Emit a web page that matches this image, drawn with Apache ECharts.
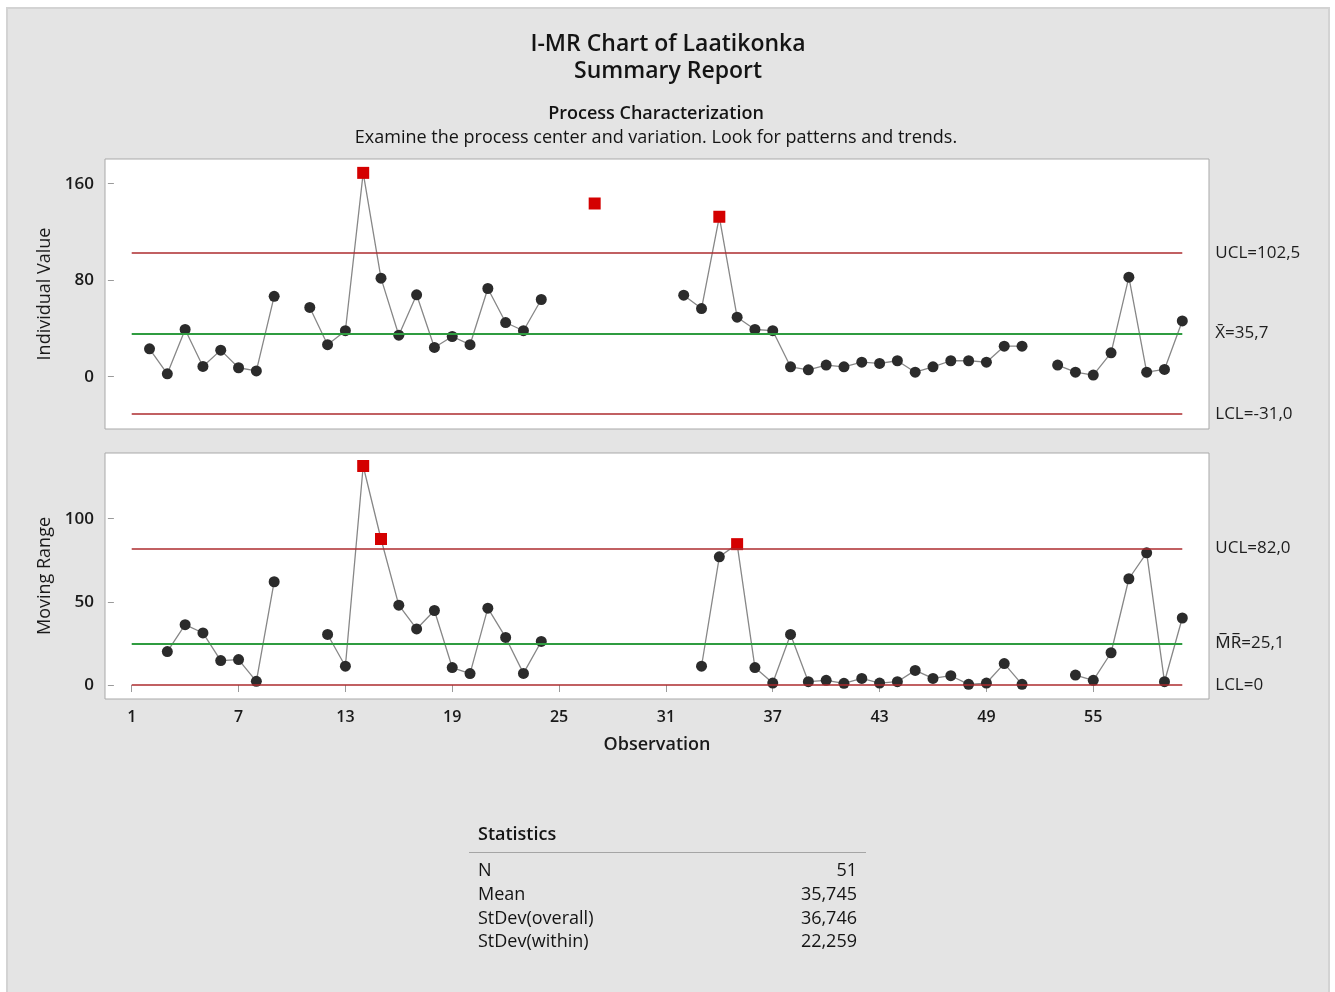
<!DOCTYPE html>
<html>
<head>
<meta charset="utf-8">
<title>I-MR Chart of Laatikonka</title>
<script src="https://cdn.jsdelivr.net/npm/echarts@6/dist/echarts.min.js"></script>
<style>
  html, body { margin: 0; padding: 0; background: #ffffff; }
  #panel {
    position: absolute; left: 6px; top: 7px;
    width: 1320px; height: 990px;
    border: 2px solid #d3d3d3; border-bottom: none;
    background: #e4e4e4;
  }
  #chart { width: 1320px; height: 983px; }
</style>
</head>
<body>
<div id="panel"><div id="chart"></div></div>
<script>
// Observations 1..60; null marks a missing observation
const individualValues = [
  null, 23.1, 2.4, 39.1, 8.5, 22.0, 7.4, 4.8, 66.6, null,
  57.4, 26.5, 38.1, 169.0, 81.7, 34.4, 67.9, 24.2, 33.3, 26.5,
  73.1, 44.9, 38.1, 64.0, null, null, 143.6, null, null, null,
  null, 67.6, 56.5, 132.6, 49.3, 39.1, 38.1, 8.2, 5.7, 9.6,
  8.2, 12.0, 11.0, 13.2, 3.7, 8.2, 13.2, 13.2, 12.0, 25.3,
  25.3, null, 9.6, 3.7, 1.3, 19.8, 82.5, 3.7, 6.0, 46.2
];
const movingRanges = [
  null, null, 20.1, 36.3, 31.3, 14.7, 15.3, 2.2, 62.1, null,
  null, 30.4, 11.3, 131.7, 87.8, 48.0, 33.7, 44.8, 10.5, 6.9,
  46.2, 28.6, 7.0, 26.2, null, null, null, null, null, null,
  null, null, 11.3, 77.1, 84.7, 10.5, 1.2, 30.4, 2.0, 2.8,
  1.0, 4.0, 1.2, 2.0, 8.8, 4.0, 5.6, 0.4, 1.2, 12.9,
  0.4, null, null, 6.0, 2.8, 19.4, 63.9, 79.5, 2.0, 40.3
];
const iLimits = [102.5, 35.7, -31.0];   // UCL, centre, LCL
const iLimitLabels = ['UCL=102,5', 'X\u0304=35,7', 'LCL=-31,0'];
const mrLimits = [82.0, 25.1, 0];       // UCL, centre, LCL
const mrLimitLabels = ['UCL=82,0', 'M\u0305R\u0305=25,1', 'LCL=0'];
const xTicks = [1, 7, 13, 19, 25, 31, 37, 43, 49, 55];
const iTicks = [0, 80, 160];
const mrTicks = [0, 50, 100];
const statNames = ['N', 'Mean', 'StDev(overall)', 'StDev(within)'];
const statValues = ['51', '35,745', '36,746', '22,259'];

const OX = 8, OY = 9;   // canvas origin on the page
const FONT = '"Open Sans", "Noto Sans", sans-serif';
const RED_LINE = '#ad2b2e', GREEN_LINE = '#2f9c40';
const DOT = '#2b2b2b', ALARM = '#d40000', CONNECT = '#878787';

function pairs(arr) {
  return arr.map((v, i) => [i + 1, v == null ? '-' : v]);
}
function points(arr, test) {
  const out = [];
  arr.forEach((v, i) => { if (v != null && test(v)) out.push([i + 1, v]); });
  return out;
}
function limitSeries(gi, limits, labels) {
  const colors = [RED_LINE, GREEN_LINE, RED_LINE];
  return {
    type: 'line', xAxisIndex: gi, yAxisIndex: gi, data: [], z: 1,
    silent: true,
    markLine: {
      silent: true, symbol: ['none', 'none'], animation: false,
      data: limits.map((v, k) => [
        { coord: [1, v], lineStyle: { color: colors[k], width: k === 1 ? 2 : 1.7, type: 'solid' },
          label: { show: true, position: 'end', distance: 33, formatter: labels[k],
                   color: '#1e1e1e', fontSize: 17, fontFamily: FONT } },
        { coord: [60, v] }
      ])
    }
  };
}
function chartSeries(gi, arr, limits) {
  const out = v => v > limits[0] || v < limits[2];
  return [
    limitSeries(gi, limits, gi === 0 ? iLimitLabels : mrLimitLabels),
    { type: 'line', xAxisIndex: gi, yAxisIndex: gi, data: pairs(arr), connectNulls: false,
      symbol: 'none', lineStyle: { color: CONNECT, width: 1.3 }, z: 2, animation: false },
    { type: 'scatter', xAxisIndex: gi, yAxisIndex: gi, data: points(arr, v => !out(v)),
      symbol: 'circle', symbolSize: 11, itemStyle: { color: DOT, opacity: 1 }, z: 3, animation: false },
    { type: 'scatter', xAxisIndex: gi, yAxisIndex: gi, data: points(arr, out),
      symbol: 'rect', symbolSize: 12, itemStyle: { color: ALARM, opacity: 1 }, z: 4, animation: false }
  ];
}
function yAxis(gi, min, max, ticks, name) {
  return {
    type: 'value', gridIndex: gi, min: min, max: max,
    splitLine: { show: false },
    axisLine: { show: false },
    axisTick: { show: true, customValues: ticks, length: 6, lineStyle: { color: '#9a9a9a' } },
    axisLabel: { customValues: ticks, margin: 11, color: '#1a1a1a', fontSize: 17,
                 fontWeight: 600, fontFamily: FONT },
    name: name, nameLocation: 'middle', nameGap: 48, nameRotate: 90,
    nameTextStyle: { fontSize: 18, color: '#1a1a1a', fontFamily: FONT }
  };
}

const gridBox = { show: true, backgroundColor: '#ffffff', borderColor: '#a9a9a9', borderWidth: 1 };

function txt(x, y, text, size, weight, align) {
  return { type: 'text', x: x - OX, y: y - OY, silent: true,
    style: { text: text, fontSize: size, fontWeight: weight, fontFamily: FONT,
             fill: '#141414', textAlign: align || 'center', textVerticalAlign: 'middle' } };
}

const graphics = [
  txt(668, 44, 'I-MR Chart of Laatikonka', 23, 600),
  txt(668, 71, 'Summary Report', 23, 600),
  txt(656, 114, 'Process Characterization', 18, 600),
  txt(656, 138, 'Examine the process center and variation. Look for patterns and trends.', 18, 400),
  txt(478, 835, 'Statistics', 18, 600, 'left'),
  { type: 'line', silent: true,
    shape: { x1: 469 - OX, y1: 852.5 - OY, x2: 866 - OX, y2: 852.5 - OY },
    style: { stroke: '#a5a5a5', lineWidth: 1.2 } }
];
statNames.forEach((n, k) => {
  const y = 871 + k * 23.7;
  graphics.push(txt(478, y, n, 18, 400, 'left'));
  graphics.push(txt(857, y, statValues[k], 18, 400, 'right'));
});

const chart = echarts.init(document.getElementById('chart'), null, { renderer: 'canvas' });
chart.setOption({
  animation: false,
  backgroundColor: 'transparent',
  grid: [
    Object.assign({ left: 105 - OX, top: 159 - OY, width: 1104, height: 270 }, gridBox),
    Object.assign({ left: 105 - OX, top: 453 - OY, width: 1104, height: 246 }, gridBox)
  ],
  xAxis: [
    { type: 'value', gridIndex: 0, min: -0.5, max: 61.5, show: false },
    { type: 'value', gridIndex: 1, min: -0.5, max: 61.5,
      splitLine: { show: false }, axisLine: { show: false },
      axisTick: { show: true, customValues: xTicks, length: 7, lineStyle: { color: '#9a9a9a' } },
      axisLabel: { customValues: xTicks, margin: 10, color: '#1a1a1a', fontSize: 16,
                   fontWeight: 600, fontFamily: FONT },
      name: 'Observation', nameLocation: 'middle', nameGap: 37,
      nameTextStyle: { fontSize: 18, fontWeight: 600, color: '#1a1a1a', fontFamily: FONT } }
  ],
  yAxis: [
    yAxis(0, -43.4, 180.5, iTicks, 'Individual Value'),
    yAxis(1, -8.4, 139.5, mrTicks, 'Moving Range')
  ],
  series: chartSeries(0, individualValues, iLimits).concat(chartSeries(1, movingRanges, mrLimits)),
  graphic: { elements: graphics }
});
</script>
</body>
</html>
